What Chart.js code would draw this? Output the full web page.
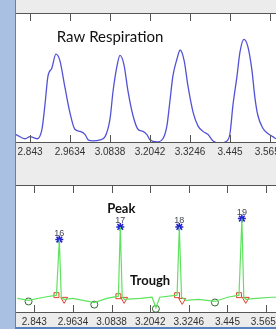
<!DOCTYPE html>
<html>
<head>
<meta charset="utf-8">
<script src="https://cdn.jsdelivr.net/npm/chart.js@4"></script>
<style>
  html, body { margin: 0; padding: 0; width: 276px; height: 329px; overflow: hidden; background: #a9c0e3; }
  #panel { position: absolute; left: 15px; top: 0; width: 261px; height: 327px; background: #ececec;
           border-left: 1px solid #5a80bf; border-bottom: 2px solid #5a80bf; overflow: hidden; }
  .box { position: absolute; left: -20px; width: 320px; }
  #box1 { top: 0; height: 165px; }
  #box2 { top: 165px; height: 169px; }
</style>
</head>
<body>
<div id="panel">
  <div class="box" id="box1"><canvas id="rawChart"></canvas></div>
  <div class="box" id="box2"><canvas id="peakChart"></canvas></div>
</div>
<script>
// eixo x (segundos)
const tickValues = [2.843, 2.9634, 3.0838, 3.2042, 3.3246, 3.445, 3.5654];
const tickLabels = ['2.843', '2.9634', '3.0838', '3.2042', '3.3246', '3.445', '3.5654'];

// respiração bruta
const rawTime = [2.790, 2.801, 2.828, 2.843, 2.864, 2.879, 2.888, 2.897, 2.909, 2.921, 2.933, 2.948, 2.963, 2.978, 2.994,
  3.009, 3.018, 3.033, 3.054, 3.069, 3.084, 3.093, 3.105, 3.114, 3.126, 3.138, 3.153, 3.168, 3.183, 3.195,
  3.204, 3.225, 3.243, 3.255, 3.264, 3.273, 3.285, 3.295, 3.307, 3.319, 3.334, 3.349, 3.364, 3.379, 3.394,
  3.415, 3.436, 3.445, 3.454, 3.466, 3.475, 3.487, 3.499, 3.511, 3.520, 3.529, 3.544, 3.559, 3.574, 3.583, 3.62];
const rawAmp = [9, 8, 4, 6, 4, 13, 36, 63, 71, 84, 78, 53, 29, 13, 11,
  8, 3, 2, 3, 6, 23, 49, 73, 83, 74, 49, 26, 13, 11, 8,
  3, 1, 4, 16, 39, 63, 79, 88, 78, 53, 29, 16, 11, 8, 2,
  0, 2, 9, 36, 63, 86, 98, 91, 69, 43, 26, 14, 9, 6, 4, 2];

// sinal processado (verde)
const procTime = [2.790, 2.825, 2.873, 2.912, 2.921, 2.927, 2.936, 2.963, 3.030, 3.069, 3.105, 3.111, 3.117,
  3.123, 3.174, 3.210, 3.222, 3.234, 3.288, 3.295, 3.302, 3.316, 3.355, 3.406, 3.445, 3.481, 3.490, 3.496,
  3.502, 3.535, 3.583, 3.62];
const procAmp = [14, 12, 15, 17, 70, 15, 13, 14, 10, 14, 16, 82, 15,
  13, 14, 15, 5, 15, 17, 82, 15, 12, 13, 11, 15, 17, 90, 15,
  13, 14, 15, 15];

// marcadores
const peakTime = [2.921, 3.111, 3.295, 3.490];
const peakAmp = [70, 82, 82, 90];
const peakLabels = ['16', '17', '18', '19'];
const onsetTime = [2.912, 3.105, 3.288, 3.481];
const onsetAmp = [17, 16, 17, 17];
const troughTime = [2.936, 3.123, 3.304, 3.502];
const troughAmp = [13, 13, 12, 13];
const minTime = [2.825, 3.030, 3.222, 3.406];
const minAmp = [11, 8, 4, 10];

const pts = (xs, ys) => xs.map((x, i) => ({ x: x, y: ys[i] }));

// moldura branca + ticks para dentro
const frame = {
  id: 'frame',
  beforeDraw(c) {
    const a = c.chartArea, g = c.ctx;
    g.save();
    g.fillStyle = '#fff';
    g.fillRect(a.left, a.top, a.right - a.left, a.bottom - a.top);
    g.restore();
  },
  afterDraw(c) {
    const a = c.chartArea, g = c.ctx, sx = c.scales.x;
    g.save();
    g.strokeStyle = '#555';
    g.lineWidth = 1;
    g.beginPath();
    g.moveTo(a.left, a.top + 0.5); g.lineTo(a.right, a.top + 0.5);
    g.moveTo(a.left, a.bottom - 0.5); g.lineTo(a.right, a.bottom - 0.5);
    tickValues.forEach(v => {
      const px = Math.round(sx.getPixelForValue(v)) + 0.5;
      g.moveTo(px, a.top); g.lineTo(px, a.top + 8);
      g.moveTo(px, a.bottom); g.lineTo(px, a.bottom - 8);
    });
    g.stroke();
    g.restore();
  }
};

// textos soltos no gráfico
const notes = {
  id: 'notes',
  afterDatasetsDraw(c, args, opts) {
    const g = c.ctx;
    g.save();
    g.fillStyle = '#111';
    g.textAlign = 'center';
    g.textBaseline = 'middle';
    (opts.items || []).forEach(n => {
      g.font = n.font;
      g.fillText(n.text, c.scales.x.getPixelForValue(n.x), c.scales.y.getPixelForValue(n.y));
    });
    if (opts.labelDataset != null) {
      g.font = '9px "Liberation Sans", Arial, sans-serif';
      g.fillStyle = '#445';
      c.getDatasetMeta(opts.labelDataset).data.forEach((el, i) => {
        g.fillText(peakLabels[i], el.x, el.y - 6);
      });
    }
    g.restore();
  }
};

function xAxis() {
  return {
    type: 'linear',
    min: 2.7407,
    max: 3.7039,
    afterBuildTicks: s => { s.ticks = tickValues.map(v => ({ value: v })); },
    grid: { display: false, drawTicks: false },
    border: { display: false },
    ticks: {
      padding: 3,
      color: '#333',
      font: { family: '"Liberation Sans", Arial, sans-serif', size: 10 },
      callback: (v, i) => tickLabels[i],
      maxRotation: 0,
      autoSkip: false
    }
  };
}

new Chart(document.getElementById('rawChart'), {
  type: 'line',
  data: {
    datasets: [{
      data: pts(rawTime, rawAmp),
      borderColor: '#5252d6',
      borderWidth: 1.3,
      pointRadius: 0,
      cubicInterpolationMode: 'monotone'
    }]
  },
  options: {
    responsive: true,
    maintainAspectRatio: false,
    animation: false,
    layout: { padding: { top: 13, bottom: 4, left: 0, right: 0 } },
    scales: { x: xAxis(), y: { display: false, min: 0, max: 123 } },
    plugins: {
      legend: { display: false },
      tooltip: { enabled: false },
      notes: { items: [{ text: 'Raw Respiration', x: 3.084, y: 100, font: '15px Lato, sans-serif' }] }
    }
  },
  plugins: [frame, notes]
});

new Chart(document.getElementById('peakChart'), {
  type: 'line',
  data: {
    datasets: [
      { data: pts(procTime, procAmp), borderColor: '#5fe35f', borderWidth: 1.2, pointRadius: 0, tension: 0 },
      { data: pts(peakTime, peakAmp), showLine: false, pointStyle: 'star', pointRadius: 4,
        borderColor: '#2020d0', borderWidth: 1.5, backgroundColor: 'transparent' },
      { data: pts(onsetTime, onsetAmp), showLine: false, pointStyle: 'rect', pointRadius: 3.5,
        borderColor: '#e0402a', borderWidth: 1, backgroundColor: 'transparent' },
      { data: pts(troughTime, troughAmp), showLine: false, pointStyle: 'triangle', rotation: 180, pointRadius: 4,
        borderColor: '#e0402a', borderWidth: 1, backgroundColor: 'transparent' },
      { data: pts(minTime, minAmp), showLine: false, pointStyle: 'circle', pointRadius: 3.5,
        borderColor: '#2f6a2f', borderWidth: 1, backgroundColor: 'transparent' }
    ]
  },
  options: {
    responsive: true,
    maintainAspectRatio: false,
    animation: false,
    layout: { padding: { top: 20, bottom: 3, left: 0, right: 0 } },
    scales: { x: xAxis(), y: { display: false, min: 0, max: 122 } },
    plugins: {
      legend: { display: false },
      tooltip: { enabled: false },
      notes: {
        labelDataset: 1,
        items: [
          { text: 'Peak', x: 3.114, y: 99, font: 'bold 13px Lato, sans-serif' },
          { text: 'Trough', x: 3.204, y: 31, font: 'bold 13px Lato, sans-serif' }
        ]
      }
    }
  },
  plugins: [frame, notes]
});
</script>
</body>
</html>
